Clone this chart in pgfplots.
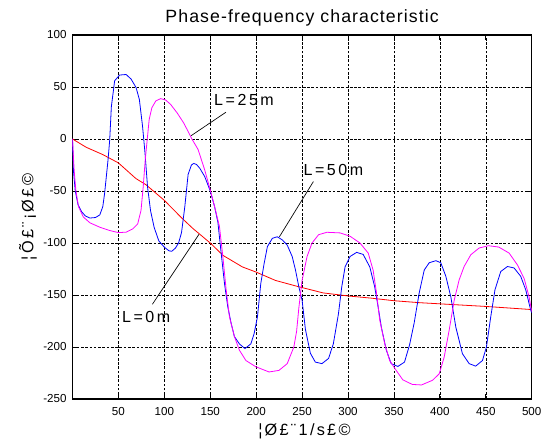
\documentclass[border=0pt]{standalone}
\usepackage{fontspec}
\setmainfont{Liberation Sans}
\newfontfamily\titlefont[LetterSpace=6]{Liberation Sans}
\newfontfamily\labfont[LetterSpace=14]{Liberation Sans}
\newfontfamily\notefont[LetterSpace=16]{Liberation Sans}
\usepackage{pgfplots}
\pgfplotsset{compat=1.18}
\definecolor{mlRed}{RGB}{255,0,0}
\definecolor{mlBlue}{RGB}{0,0,255}
\definecolor{mlMag}{RGB}{255,0,255}

\begin{document}
\begin{tikzpicture}
% fix the page to the reference frame (1px = 0.75pt)
\useasboundingbox (-54.375pt,-31.5pt) rectangle (354.375pt,299.25pt);
\begin{axis}[
    at={(0,0)}, anchor=south west,
    scale only axis,
    width=344.4pt, height=273pt,
    xmin=0, xmax=500, ymin=-250, ymax=100,
    xtick={50,100,...,500},
    ytick={-250,-200,...,100},
    grid=major,
    major grid style={black, line width=0.4pt, dash pattern=on 2pt off 1.2pt},
    axis line style={black, line width=0.8pt},
    tick align=inside, major tick length=3.5pt,
    tick style={black, line width=0.6pt},
    /pgf/number format/assume math mode=true,
    ticklabel style={font=\fontsize{8.7}{10}\selectfont},
    xticklabel style={anchor=base, yshift=-12.2pt},
    yticklabel style={anchor=east, inner sep=0pt, xshift=-4.3pt},
    every axis title shift=0pt,
    title={\titlefont Phase-frequency characteristic},
    title style={font=\fontsize{13.3}{15}\selectfont,
        at={(axis description cs:0.5,1.0338)}, anchor=base},
    xlabel={\labfont ¦Ø£¨1/s£©},
    x label style={font=\fontsize{12.2}{14}\selectfont,
        at={(axis description cs:0.505,-0.09)}, anchor=center},
    ylabel={\labfont ¦Õ£¨¡Ø£©},
    y label style={font=\fontsize{12.2}{14}\selectfont,
        at={(axis description cs:-0.0969,0.5)}, anchor=center},
]
% L = 0 m
\addplot[mlRed, line width=0.6pt] coordinates {
 (0,0) (15,-8) (33,-15) (50,-23) (69,-38) (80,-44) (100,-59) (119,-76)
 (131,-86) (150,-100) (164,-112) (185,-123) (200,-128) (221,-136)
 (246,-142) (273,-148) (301,-151) (325,-153) (350,-155.5) (378,-157.4)
 (400,-158.5) (450,-161) (500,-164)
};
% L = 50 m
\addplot[mlBlue, line width=0.6pt] coordinates {
 (0,0) (1,-30) (3,-50) (6,-63) (10,-70) (14,-74) (19,-76) (25,-75.5)
 (29.7,-73) (33,-65) (35,-52) (38.7,-20) (40.5,-1) (42.3,31) (45.9,56)
 (51.3,61.5) (58.4,62) (63.8,57.6) (69.2,49.5) (72.8,38) (76.3,12)
 (79,-14) (81.7,-46) (85,-69) (88.9,-85) (94,-98) (100,-104) (105,-107.5)
 (108,-108) (112,-105) (115.5,-100) (118.7,-90) (122.3,-65) (125.9,-34)
 (129.5,-25) (132,-23.5) (135,-24.5) (138.5,-28) (143.9,-36) (150,-50)
 (154.7,-65) (158.3,-80) (161.9,-110) (165.5,-139) (169,-161) (172.7,-177)
 (176.3,-190) (181.7,-197) (187.8,-201.5) (194.2,-197) (197.8,-187)
 (201.4,-171) (205,-139) (208.6,-120) (212.2,-103.5) (217.6,-95.5)
 (223,-94) (228.4,-97) (233.8,-102) (239.2,-113) (242.8,-126) (246.4,-142)
 (250,-155) (253.6,-183) (259,-206) (264.4,-214.5) (271.6,-216)
 (278.8,-211) (284,-197) (289.6,-168) (293.2,-142) (296.8,-123)
 (302.2,-113) (309.4,-109) (316.5,-111) (323.7,-123) (329,-142)
 (332.7,-161) (336.3,-181) (341.7,-203) (347,-216) (354.3,-218.7)
 (361.5,-214.5) (367,-198) (372,-177) (377.5,-148) (383,-126)
 (388.4,-119) (395.7,-117) (401,-119) (406.5,-132) (412,-152)
 (417.4,-181) (424.6,-206.5) (431.9,-216) (439,-218.4) (446.4,-213)
 (450.7,-200) (455.4,-171) (460,-145) (466.3,-127.4) (473.6,-122.6)
 (480.8,-124) (488,-132) (493.5,-145) (498.9,-164.5) (500,-167)
};
% L = 25 m
\addplot[mlMag, line width=0.6pt] coordinates {
 (0,0) (1.8,-30) (3.6,-49) (6.5,-65) (11.8,-75) (19,-80.6) (29.7,-84.8)
 (40.5,-88) (50,-90) (58.4,-89.6) (65.6,-86.4) (71,-81.6) (74.6,-68.6)
 (77,-46) (79.2,-20) (81.7,2.6) (83.5,18.8) (86.4,30) (90.7,36.6)
 (96,38.8) (101.4,37.5) (106.8,33.3) (114,25) (121,15.5) (125.8,7.4)
 (130,0) (136.7,-10) (143.9,-29.6) (150,-49) (154.7,-65) (160,-84)
 (163.7,-113) (167.3,-145) (170.9,-171) (176.3,-190) (181.7,-203)
 (188.8,-213) (199.6,-219) (214,-224) (224.8,-222.5) (233.8,-216)
 (241,-200) (244,-185) (246.5,-162) (250,-136) (255.4,-113) (260.8,-100)
 (268,-92) (277,-89.7) (291.4,-90.3) (302.2,-93.5) (313,-100)
 (322,-109.7) (327.3,-126) (331,-148) (334.5,-174) (340,-197)
 (345.3,-213) (352.5,-222.6) (359.7,-231.6) (370,-236) (380,-236.5)
 (392,-232) (399.3,-225.8) (404.7,-209.7) (410.1,-184) (415.6,-155)
 (421,-135.5) (426.4,-122.6) (433.7,-111.3) (442.8,-104.8) (452.9,-102.6)
 (464.1,-103.9) (475.4,-109.7) (484.4,-121) (491.7,-134) (497.1,-151.6)
 (500,-166)
};
% annotations
\draw[black, line width=0.5pt] (axis cs:167,25.7) -- (axis cs:129.2,3.2);
\node[anchor=west, inner sep=0pt, font=\fontsize{12}{13}\selectfont]
    at (axis cs:154,37.5) {\notefont L=25m};
\draw[black, line width=0.5pt] (axis cs:262.3,-40.9) -- (axis cs:225.3,-94);
\node[anchor=west, inner sep=0pt, font=\fontsize{12}{13}\selectfont]
    at (axis cs:251.4,-29.4) {\notefont L=50m};
\draw[black, line width=0.5pt] (axis cs:87,-158.9) -- (axis cs:137.7,-91.7);
\node[anchor=west, inner sep=0pt, font=\fontsize{12}{13}\selectfont]
    at (axis cs:53.7,-170.8) {\notefont L=0m};
\end{axis}
\end{tikzpicture}
\end{document}
